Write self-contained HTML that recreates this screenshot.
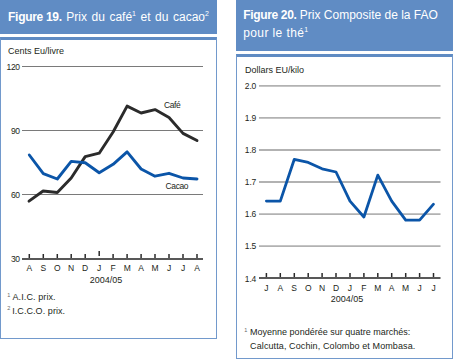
<!DOCTYPE html>
<html><head><meta charset="utf-8">
<style>
html,body{margin:0;padding:0;background:#fff;width:453px;height:359px;overflow:hidden;position:relative;font-family:"Liberation Sans",sans-serif;color:#231f20}
.hd{position:absolute;top:0;background:#608cc4;color:#fff;font-size:12px}
.box{position:absolute;box-sizing:border-box;border:1px solid #7299cc;border-top:3px solid #5f8bc3}
.t{position:absolute;white-space:nowrap;line-height:1}
.hd .t{line-height:1}
sup{font-size:7px;vertical-align:0;position:relative;top:-5px}
.s9{font-size:9px}
.fs{font-size:5.5px;color:#666}
.s8{font-size:8px}
.yl{font-size:8.5px;letter-spacing:-0.3px}
.c{width:20px;text-align:center;font-size:8.5px}
svg{position:absolute;left:0;top:0}
</style></head><body>
<div class="hd" style="left:0;width:217px;height:34px">
  <div class="t" style="left:8.1px;top:10.5px"><b style="letter-spacing:-0.3px">Figure 19.</b><span style="word-spacing:1.2px"> Prix du café<sup>1</sup> et du cacao<sup>2</sup></span></div>
</div>
<div class="box" style="left:0;top:37px;width:217px;height:302px"></div>

<div class="hd" style="left:236px;width:217px;height:51px">
  <div class="t" style="left:7.2px;top:9px"><b style="letter-spacing:-0.34px">Figure 20.</b> Prix Composite de la FAO</div>
  <div class="t" style="left:7.2px;top:27px;letter-spacing:0.4px">pour le thé<sup>1</sup></div>
</div>
<div class="box" style="left:236px;top:54px;width:217px;height:305px"></div>

<!-- chart 1 text -->
<div class="t s9" style="left:8px;top:47px">Cents Eu/livre</div>
<div class="t yl" style="left:0;width:19.8px;text-align:right;top:62.8px">120</div>
<div class="t yl" style="left:0;width:19.8px;text-align:right;top:126.8px">90</div>
<div class="t yl" style="left:0;width:19.8px;text-align:right;top:190.8px">60</div>
<div class="t yl" style="left:0;width:19.8px;text-align:right;top:255.3px">30</div>
<div class="t s8" style="left:164px;top:100.5px;font-size:8.5px;letter-spacing:-0.4px">Café</div>
<div class="t s8" style="left:165.6px;top:181.8px;font-size:8.5px;letter-spacing:-0.4px">Cacao</div>
<div class="t s8 c" style="left:19.3px;top:264.1px">A</div>
<div class="t s8 c" style="left:33.3px;top:264.1px">S</div>
<div class="t s8 c" style="left:47.3px;top:264.1px">O</div>
<div class="t s8 c" style="left:61.2px;top:264.1px">N</div>
<div class="t s8 c" style="left:75.2px;top:264.1px">D</div>
<div class="t s8 c" style="left:89.2px;top:264.1px">J</div>
<div class="t s8 c" style="left:103.2px;top:264.1px">F</div>
<div class="t s8 c" style="left:117.2px;top:264.1px">M</div>
<div class="t s8 c" style="left:131.1px;top:264.1px">A</div>
<div class="t s8 c" style="left:145.1px;top:264.1px">M</div>
<div class="t s8 c" style="left:159.1px;top:264.1px">J</div>
<div class="t s8 c" style="left:173.1px;top:264.1px">J</div>
<div class="t s8 c" style="left:187.1px;top:264.1px">A</div>
<div class="t s9" style="left:89.7px;top:276px">2004/05</div>
<div class="t fs" style="left:7.2px;top:293px">1</div>
<div class="t s9" style="left:12.5px;top:293px;letter-spacing:0.1px">A.I.C. prix.</div>
<div class="t fs" style="left:7.2px;top:305.7px">2</div>
<div class="t s9" style="left:12.2px;top:306.5px;letter-spacing:0.07px">I.C.C.O. prix.</div>

<!-- chart 2 text -->
<div class="t s9" style="left:244.9px;top:66.3px">Dollars EU/kilo</div>
<div class="t yl" style="left:236px;width:20.2px;text-align:right;letter-spacing:-0.15px;top:81.9px">2.0</div>
<div class="t yl" style="left:236px;width:20.2px;text-align:right;letter-spacing:-0.15px;top:113.9px">1.9</div>
<div class="t yl" style="left:236px;width:20.2px;text-align:right;letter-spacing:-0.15px;top:145.9px">1.8</div>
<div class="t yl" style="left:236px;width:20.2px;text-align:right;letter-spacing:-0.15px;top:177.9px">1.7</div>
<div class="t yl" style="left:236px;width:20.2px;text-align:right;letter-spacing:-0.15px;top:209.9px">1.6</div>
<div class="t yl" style="left:236px;width:20.2px;text-align:right;letter-spacing:-0.15px;top:241.9px">1.5</div>
<div class="t yl" style="left:236px;width:20.2px;text-align:right;letter-spacing:-0.15px;top:275px">1.4</div>
<div class="t s8 c" style="left:256.4px;top:283.6px">J</div>
<div class="t s8 c" style="left:270.3px;top:283.6px">A</div>
<div class="t s8 c" style="left:284.2px;top:283.6px">S</div>
<div class="t s8 c" style="left:298.2px;top:283.6px">O</div>
<div class="t s8 c" style="left:312.1px;top:283.6px">N</div>
<div class="t s8 c" style="left:326.0px;top:283.6px">D</div>
<div class="t s8 c" style="left:339.9px;top:283.6px">J</div>
<div class="t s8 c" style="left:353.9px;top:283.6px">F</div>
<div class="t s8 c" style="left:367.8px;top:283.6px">M</div>
<div class="t s8 c" style="left:381.7px;top:283.6px">A</div>
<div class="t s8 c" style="left:395.6px;top:283.6px">M</div>
<div class="t s8 c" style="left:409.6px;top:283.6px">J</div>
<div class="t s8 c" style="left:423.5px;top:283.6px">J</div>
<div class="t s9" style="left:330.7px;top:295px">2004/05</div>
<div class="t fs" style="left:244.2px;top:327.5px">1</div>
<div class="t s9" style="left:250.1px;top:328px">Moyenne pondérée sur quatre marchés:</div>
<div class="t s9" style="left:250.1px;top:341.5px;letter-spacing:0.1px">Calcutta, Cochin, Colombo et Mombasa.</div>

<svg width="453" height="359" viewBox="0 0 453 359">
  <!-- chart 1 grid -->
  <g stroke="#7a7a7a" stroke-width="1">
    <line x1="22" y1="66.5" x2="203" y2="66.5"/>
    <line x1="22" y1="130.5" x2="203" y2="130.5"/>
    <line x1="22" y1="194.5" x2="203" y2="194.5"/>
  </g>
  <line x1="22" y1="259" x2="203" y2="259" stroke="#585858" stroke-width="1.8"/>
  <g stroke="#2a2a2a" stroke-width="1.5">
    <line x1="29.3" y1="254" x2="29.3" y2="258"/>
    <line x1="43.3" y1="254" x2="43.3" y2="258"/>
    <line x1="57.3" y1="254" x2="57.3" y2="258"/>
    <line x1="71.2" y1="254" x2="71.2" y2="258"/>
    <line x1="85.2" y1="254" x2="85.2" y2="258"/>
    <line x1="99.2" y1="251" x2="99.2" y2="256"/>
    <line x1="113.1" y1="254" x2="113.1" y2="258"/>
    <line x1="127.1" y1="254" x2="127.1" y2="258"/>
    <line x1="141.1" y1="254" x2="141.1" y2="258"/>
    <line x1="155" y1="254" x2="155" y2="258"/>
    <line x1="169" y1="254" x2="169" y2="258"/>
    <line x1="183" y1="254" x2="183" y2="258"/>
    <line x1="197" y1="254" x2="197" y2="258"/>
  </g>
  <polyline fill="none" stroke="#2b2b2b" stroke-width="2.9" stroke-linejoin="round" stroke-linecap="round"
    points="29,201.1 43.1,191 57.3,192.5 71.2,178 85.2,156.6 99.2,153.2 113.1,132 127.1,106.1 141.1,113 155,109.6 169,117.5 183,133.4 197,140.5"/>
  <polyline fill="none" stroke="#0b55a8" stroke-width="2.9" stroke-linejoin="round" stroke-linecap="round"
    points="29.3,155 43.3,173.6 57.3,179 71.2,161.4 85.2,162.7 99.2,172.7 113.1,164.3 127.1,151.9 141.1,169 155,176.2 169,173.3 183,178 197,179"/>

  <!-- chart 2 grid -->
  <g stroke="#b2b2b2" stroke-width="1.8">
    <line x1="259" y1="85.8" x2="440.5" y2="85.8"/>
    <line x1="259" y1="117.9" x2="440.5" y2="117.9"/>
    <line x1="259" y1="150" x2="440.5" y2="150"/>
    <line x1="259" y1="182" x2="440.5" y2="182"/>
    <line x1="259" y1="214.1" x2="440.5" y2="214.1"/>
    <line x1="259" y1="246.2" x2="440.5" y2="246.2"/>
  </g>
  <line x1="259" y1="278" x2="440.5" y2="278" stroke="#585858" stroke-width="1.8"/>
  <g stroke="#2a2a2a" stroke-width="1.5">
    <line x1="266.4" y1="273" x2="266.4" y2="277"/>
    <line x1="280.3" y1="273" x2="280.3" y2="277"/>
    <line x1="294.3" y1="273" x2="294.3" y2="277"/>
    <line x1="308.2" y1="273" x2="308.2" y2="277"/>
    <line x1="322.1" y1="273" x2="322.1" y2="277"/>
    <line x1="336" y1="273" x2="336" y2="277"/>
    <line x1="350" y1="273" x2="350" y2="277"/>
    <line x1="363.9" y1="273" x2="363.9" y2="277"/>
    <line x1="377.8" y1="273" x2="377.8" y2="277"/>
    <line x1="391.7" y1="273" x2="391.7" y2="277"/>
    <line x1="405.7" y1="273" x2="405.7" y2="277"/>
    <line x1="419.6" y1="273" x2="419.6" y2="277"/>
    <line x1="433.5" y1="273" x2="433.5" y2="277"/>
  </g>
  <polyline fill="none" stroke="#0b55a8" stroke-width="2.8" stroke-linejoin="round" stroke-linecap="round"
    points="266.4,201.1 280.3,201.1 294.3,159.3 308.2,162.4 322.1,168.8 336,172 350,201.1 363.9,217 377.8,175.1 391.7,201.1 405.7,220.2 419.6,220.2 433.5,204.2"/>
</svg>
</body></html>
